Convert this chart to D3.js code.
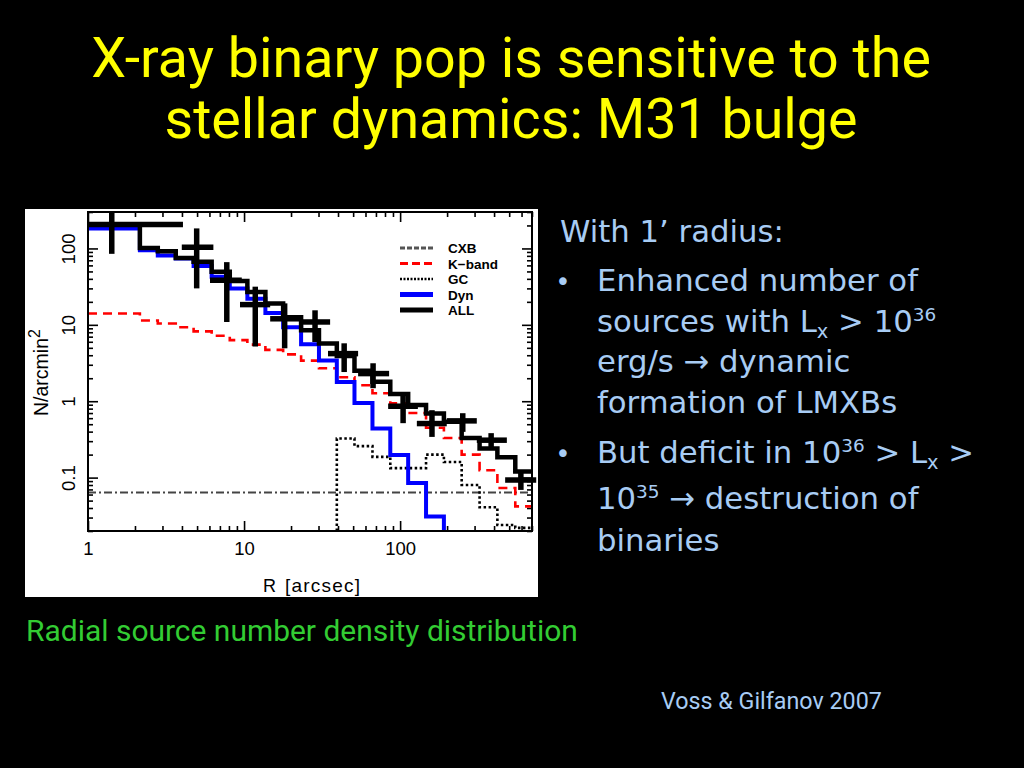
<!DOCTYPE html>
<html>
<head>
<meta charset="utf-8">
<title>X-ray binary pop: M31 bulge</title>
<style>
  body { margin: 0; background: #000; }
  svg { display: block; }
  .axis text { font: 18.5px "Liberation Sans", Arial, sans-serif; fill: #000; }
  .axis line { stroke: #000; stroke-width: 1.6; }
  .legend text { font: bold 13.5px "Liberation Sans", Arial, sans-serif; fill: #000; }
</style>
</head>
<body>
<svg width="1024" height="768"></svg>
<script src="https://d3js.org/d3.v7.min.js"></script>
<script>
// radial bins, arcsec
var edges = [1, 2.15, 2.8, 3.65, 4.75, 6.2, 8.1, 10.5, 13.7, 17.8, 23.2, 30.2, 39.3, 51, 66.5, 86.5, 112.6, 146.6, 190.8, 248, 323, 420, 547, 700];

// model components, N/arcmin^2 per bin
var allModel = [206, 101, 92, 75, 67, 49.5, 37.5, 27, 19, 12.6, 8.5, 5.7, 3.9, 2.5, 1.8, 1.24, 0.89, 0.69, 0.54, 0.33, 0.24, 0.185, 0.12];
var kband = [14.1, 11.4, 10.4, 9.3, 8.2, 7.2, 6.3, 5.5, 4.7, 4.1, 3.4, 2.7, 2.06, 1.62, 1.27, 0.94, 0.70, 0.45, 0.33, 0.20, 0.125, 0.073, 0.042];
var dyn = [183, 95, 81, 74, 59, 42.5, 30, 22, 14.3, 9.3, 5.55, 3.4, 1.79, 0.95, 0.44, 0.197, 0.085, 0.031];
var gc = [null, null, null, null, null, null, null, null, null, null, null, null, 0.325, 0.258, 0.187, 0.133, 0.133, 0.2, 0.16, 0.08, 0.041, 0.024, 0.022];
var cxb = 0.064;

// observed points with errors
var obsR   = [1.42, 4.97, 7.75, 11.8, 18.2, 28.5, 43.8, 67.1, 104.5, 160, 252, 383, 594];
var obsRlo = [1.0, 3.99, 6.05, 9.42, 14.7, 22.9, 34.5, 53.8, 83.8, 128, 199, 310, 471];
var obsRhi = [4.06, 6.36, 9.67, 14.7, 23.2, 35.6, 53.8, 85, 130, 199, 310, 483, 745];
var obsN   = [206, 104, 38.2, 18.4, 12.0, 10.9, 4.2, 2.3, 0.86, 0.51, 0.553, 0.309, 0.093];
var obsNlo = [85, 30, 10.9, 5.2, 4.93, 5.96, 2.41, 1.48, 0.516, 0.341, 0.397, 0.243, 0.069];
var obsNhi = [300, 183, 66.2, 31.6, 19.1, 15.5, 5.73, 3.14, 1.2, 0.763, 0.697, 0.382, 0.119];

var xTicks = [1, 10, 100];
var yTicks = [0.1, 1, 10, 100];
var legendNames = ["CXB", "K\u2212band", "GC", "Dyn", "ALL"];

var svg = d3.select("svg");

var x = d3.scaleLog().domain([1, 700]).range([88, 532]);
var y = d3.scaleLog().domain([0.02, 300]).range([531, 212]);
var floor = y.domain()[0];

function isDecade(d) { return Math.abs(Math.log10(d) - Math.round(Math.log10(d))) < 1e-6; }
var xMinor = x.ticks().filter(function(d) { return !isDecade(d); });
var yMinor = y.ticks().filter(function(d) { return !isDecade(d); });

// white panel
svg.append("rect").attr("x", 25).attr("y", 209).attr("width", 513).attr("height", 388).attr("fill", "#fff");

svg.append("clipPath").attr("id", "plot").append("rect")
    .attr("x", 88).attr("y", 212).attr("width", 444).attr("height", 319);

// axes: ticks inward on all four sides
function addAxis(axis, tx, ty) {
  var g = svg.append("g").attr("class", "axis").attr("transform", "translate(" + tx + "," + ty + ")").call(axis);
  g.select(".domain").remove();
  return g;
}
addAxis(d3.axisBottom(x).tickValues(xMinor).tickSize(-5).tickFormat(""), 0, 531);
addAxis(d3.axisTop(x).tickValues(xMinor).tickSize(-5).tickFormat(""), 0, 212);
addAxis(d3.axisTop(x).tickValues(xTicks).tickSize(-10).tickFormat(""), 0, 212);
addAxis(d3.axisBottom(x).tickValues(xTicks).tickSize(-10).tickPadding(10.5).tickFormat(function(d) { return d; }), 0, 531);

addAxis(d3.axisLeft(y).tickValues(yMinor).tickSize(-5).tickFormat(""), 88, 0);
addAxis(d3.axisRight(y).tickValues(yMinor).tickSize(-5).tickFormat(""), 532, 0);
addAxis(d3.axisRight(y).tickValues(yTicks).tickSize(-10).tickFormat(""), 532, 0);
var yl = addAxis(d3.axisLeft(y).tickValues(yTicks).tickSize(-10).tickFormat(function(d) { return d; }), 88, 0);
yl.selectAll("text")
    .attr("x", null).attr("dy", null)
    .attr("transform", "translate(-13,0) rotate(-90)")
    .style("text-anchor", "middle");

// axis titles
svg.append("text")
    .attr("transform", "translate(48,416) rotate(-90)")
    .style("font", "19.5px 'Liberation Sans', Arial, sans-serif")
    .text("N/arcmin")
  .append("tspan").attr("baseline-shift", "8").style("font-size", "16px").text("2");

svg.append("text").attr("x", 263).attr("y", 592)
    .style("font", "18px 'Liberation Sans', Arial, sans-serif").text("R");
svg.append("text").attr("x", 285).attr("y", 592).attr("textLength", 75)
    .style("font", "19px 'Liberation Sans', Arial, sans-serif").text("[arcsec]");

// step histograms
function steps(vals) {
  var pts = [];
  vals.forEach(function(v, i) { if (v != null) pts.push([edges[i], v]); });
  return pts;
}
var line = d3.line().x(function(d) { return x(d[0]); }).y(function(d) { return y(d[1]); }).curve(d3.curveStepAfter);
var plot = svg.append("g").attr("clip-path", "url(#plot)");

plot.append("path")
    .attr("d", line([[edges[0], cxb], [edges[edges.length - 1], cxb]]))
    .attr("fill", "none").attr("stroke", "#444").attr("stroke-width", 2).attr("stroke-dasharray", "8,3,2,3");

var kPts = steps(kband); kPts.push([edges[kband.length], kband[kband.length - 1]]);
plot.append("path").attr("d", line(kPts))
    .attr("fill", "none").attr("stroke", "#f00").attr("stroke-width", 2.6).attr("stroke-dasharray", "9,6");

var gPts = steps(gc); gPts.unshift([gPts[0][0], floor]); gPts.push([edges[gc.length], gc[gc.length - 1]]);
plot.append("path").attr("d", line(gPts))
    .attr("fill", "none").attr("stroke", "#000").attr("stroke-width", 2.6).attr("stroke-dasharray", "2.5,2.5");

var dPts = steps(dyn); dPts.push([edges[dyn.length], floor]);
plot.append("path").attr("d", line(dPts))
    .attr("fill", "none").attr("stroke", "#0000ff").attr("stroke-width", 4);

var aPts = steps(allModel); aPts.push([edges[allModel.length], allModel[allModel.length - 1]]);
plot.append("path").attr("d", line(aPts))
    .attr("fill", "none").attr("stroke", "#000").attr("stroke-width", 4.5);

// data crosses
var crosses = svg.append("g").attr("stroke", "#000").attr("stroke-width", 5.5);
obsR.forEach(function(r, i) {
  crosses.append("line")
      .attr("x1", x(r)).attr("x2", x(r))
      .attr("y1", y(obsNlo[i])).attr("y2", y(obsNhi[i]));
  crosses.append("line")
      .attr("x1", x(obsRlo[i])).attr("x2", x(obsRhi[i]))
      .attr("y1", y(obsN[i])).attr("y2", y(obsN[i]));
});

// frame
svg.append("rect").attr("x", 88).attr("y", 212).attr("width", 444).attr("height", 319)
    .attr("fill", "none").attr("stroke", "#000").attr("stroke-width", 2);

// legend
var legStyles = [
  { c: "#555", w: 3, dash: "5,2" },
  { c: "#f00", w: 3, dash: "8,4" },
  { c: "#000", w: 2.5, dash: "2,1.5" },
  { c: "#0000ff", w: 5, dash: null },
  { c: "#000", w: 5, dash: null }
];
var leg = svg.append("g").attr("class", "legend");
legendNames.forEach(function(name, i) {
  var ly = 248 + i * 15.5;
  leg.append("line").attr("x1", 400).attr("x2", 433).attr("y1", ly).attr("y2", ly)
      .attr("stroke", legStyles[i].c).attr("stroke-width", legStyles[i].w)
      .attr("stroke-dasharray", legStyles[i].dash);
  leg.append("text").attr("x", 448).attr("y", ly + 5).text(name);
});

// slide texts
function fit(sel, target) {
  var w = sel.node().getComputedTextLength();
  var fs = parseFloat(sel.style("font-size"));
  sel.style("font-size", (fs * target / w) + "px");
  return fs * target / w;
}

var t1 = svg.append("text").attr("x", 511).attr("y", 77).attr("text-anchor", "middle")
    .attr("fill", "#ffff00").style("font-family", "Roboto, sans-serif").style("font-size", "46px")
    .text("X-ray binary pop is sensitive to the");
var tfs = fit(t1, 840);
svg.append("text").attr("x", 511).attr("y", 138).attr("text-anchor", "middle")
    .attr("fill", "#ffff00").style("font-family", "Roboto, sans-serif").style("font-size", tfs + "px")
    .text("stellar dynamics: M31 bulge");

fit(svg.append("text").attr("x", 26).attr("y", 641)
    .attr("fill", "#33cc33").style("font-family", "Roboto, sans-serif").style("font-size", "26px")
    .text("Radial source number density distribution"), 552);

fit(svg.append("text").attr("x", 661).attr("y", 709)
    .attr("fill", "#a8ccf4").style("font-family", "Roboto, sans-serif").style("font-size", "22px")
    .text("Voss & Gilfanov 2007"), 221);

// bullet text block, each line: [x, baseline, bullet?, segments]
var bodyLines = [
  [560, 242, false, [["With 1\u2019 radius:"]]],
  [597, 291, true, [["Enhanced number of"]]],
  [597, 332, false, [["sources with L"], ["x", "sub"], [" > 10"], ["36", "sup"]]],
  [597, 372, false, [["erg/s \u2192 dynamic"]]],
  [597, 413, false, [["formation of LMXBs"]]],
  [597, 463, true, [["But deficit in 10"], ["36", "sup"], [" > L"], ["x", "sub"], [" >"]]],
  [597, 509, false, [["10"], ["35", "sup"], [" \u2192 destruction of"]]],
  [597, 551, false, [["binaries"]]]
];
var body = svg.append("g").attr("fill", "#a8ccf4").style("font-family", "'DejaVu Sans', sans-serif");
var bodyTexts = bodyLines.map(function(L) {
  var t = body.append("text").attr("transform", "translate(" + L[0] + "," + L[1] + ")").style("font-size", "30px");
  L[3].forEach(function(s) {
    var ts = t.append("tspan").text(s[0]);
    if (s[1] === "sup") ts.attr("baseline-shift", "11").style("font-size", "18px");
    if (s[1] === "sub") ts.attr("baseline-shift", "-6").style("font-size", "19px");
  });
  if (L[2]) body.append("text").attr("x", 563).attr("y", L[1]).attr("text-anchor", "middle").style("font-size", "26px").text("\u2022");
  return t;
});
var k = 321 / bodyTexts[1].node().getComputedTextLength();
bodyTexts.forEach(function(t, i) {
  t.attr("transform", "translate(" + bodyLines[i][0] + "," + bodyLines[i][1] + ") scale(" + k + ")");
});
</script>
</body>
</html>
